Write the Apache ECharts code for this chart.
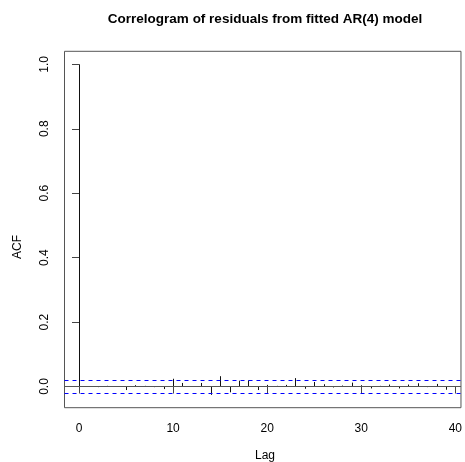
<!DOCTYPE html>
<html>
<head>
<meta charset="utf-8">
<script src="https://cdn.jsdelivr.net/npm/echarts@6/dist/echarts.min.js"></script>
<style>
html,body{margin:0;padding:0;background:#fff;}
#chart{width:465px;height:462px;}
</style>
</head>
<body>
<div id="chart"></div>
<script>
// ---- data ----
const titleText = "Correlogram of residuals from fitted AR(4) model";
const xAxisName = "Lag";
const yAxisName = "ACF";
const lags = [0,1,2,3,4,5,6,7,8,9,10,11,12,13,14,15,16,17,18,19,20,21,22,23,24,25,26,27,28,29,30,31,32,33,34,35,36,37,38,39,40];
const acfValues = [1, 0.001, -0.002, 0.002, -0.001, -0.011, 0.004, 0.002, -0.002, -0.008,
  0.024, 0.011, 0.001, 0.011, -0.026, 0.032, -0.018, 0.018, 0.019, -0.011,
  0.005, 0.002, 0.005, 0.026, -0.007, 0.014, 0.007, -0.003, 0.003, 0.012,
  0.004, -0.006, 0.002, 0.006, -0.006, 0.006, 0.010, -0.002, 0.008, -0.010, 0.001];
const ciBound = 0.02;
const xTicks = [0, 10, 20, 30, 40];
const yTicks = [0, 0.2, 0.4, 0.6, 0.8, 1.0];

const FONT = "'Liberation Sans', Arial, Helvetica, sans-serif";
const chart = echarts.init(document.getElementById('chart'), null, {renderer: 'canvas'});

const spikeData = lags.map((l, i) => [l, acfValues[i]]);

const option = {
  animation: false,
  backgroundColor: '#ffffff',
  grid: {
    left: 64.5, top: 51.3, right: 1, bottom: 54.3,
    show: true, borderColor: '#555555', borderWidth: 1, backgroundColor: 'transparent'
  },
  xAxis: {
    type: 'value', min: -1.54, max: 40.6,
    axisLine: {show: false},
    splitLine: {show: false},
    axisTick: {show: true, length: 7, lineStyle: {color: '#444444', width: 1}, customValues: xTicks},
    axisLabel: {show: true, customValues: xTicks, margin: 15, fontSize: 12, fontFamily: FONT, color: '#000000',
      formatter: v => String(v)}
  },
  yAxis: {
    type: 'value', min: -0.0658, max: 1.0404,
    axisLine: {show: false},
    splitLine: {show: false},
    axisTick: {show: true, length: 7, lineStyle: {color: '#444444', width: 1}, customValues: yTicks},
    axisLabel: {show: true, customValues: yTicks, rotate: 90, margin: 14, fontSize: 12, fontFamily: FONT, color: '#000000',
      formatter: v => Number(v).toFixed(1)}
  },
  series: [
    {
      type: 'custom',
      data: spikeData,
      silent: true,
      clip: true,
      renderItem: function (params, api) {
        const p0 = api.coord([api.value(0), 0]);
        const p1 = api.coord([api.value(0), api.value(1)]);
        const x = Math.round(p0[0]) + 0.5;
        return {
          type: 'line',
          shape: {x1: x, y1: p0[1], x2: x, y2: p1[1]},
          style: {stroke: '#111111', lineWidth: 1}
        };
      },
      markLine: {
        silent: true,
        symbol: ['none', 'none'],
        label: {show: false},
        animation: false,
        data: [
          {yAxis: 0, lineStyle: {color: '#555555', type: 'solid', width: 1}},
          {yAxis: ciBound, lineStyle: {color: '#0000ff', type: [4, 4], width: 1}},
          {yAxis: -ciBound, lineStyle: {color: '#0000ff', type: [4, 4], width: 1}}
        ]
      }
    }
  ],
  graphic: [
    {type: 'text', silent: true,
      style: {text: titleText, x: 265, y: 19, textAlign: 'center', textVerticalAlign: 'middle',
        font: 'bold 13.5px ' + FONT, fill: '#000000'}},
    {type: 'text', silent: true,
      style: {text: xAxisName, x: 265, y: 456, textAlign: 'center', textVerticalAlign: 'middle',
        font: '12px ' + FONT, fill: '#000000'}},
    {type: 'text', silent: true, x: 18, y: 247, rotation: Math.PI / 2,
      style: {text: yAxisName, x: 0, y: 0, textAlign: 'center', textVerticalAlign: 'middle',
        font: '12px ' + FONT, fill: '#000000'}}
  ]
};
chart.setOption(option);
</script>
</body>
</html>
